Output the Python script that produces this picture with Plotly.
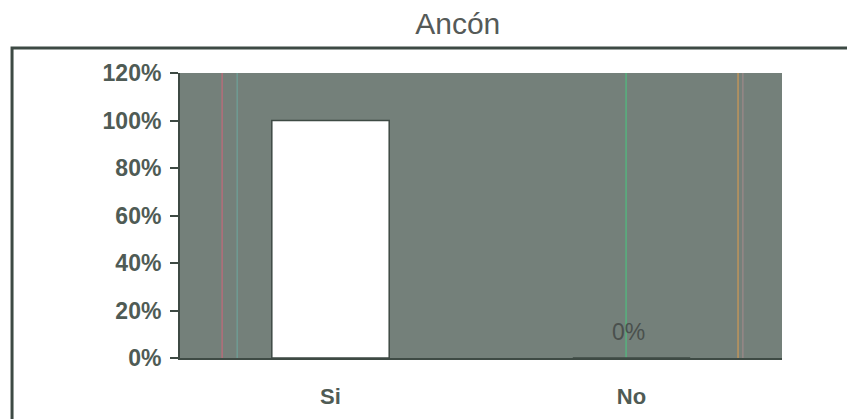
import plotly.graph_objects as go

# data
categories = ["Si", "No"]
values = [1.0, 0.0]
value_labels = ["", "0%"]
y_ticks = [0, 0.2, 0.4, 0.6, 0.8, 1.0, 1.2]
y_tick_labels = ["0%", "20%", "40%", "60%", "80%", "100%", "120%"]

FONT = "Liberation Sans, Arial"

bars = go.Bar(x=categories, y=values, width=0.39,
              marker=dict(color="#ffffff", line=dict(color="#3e4a44", width=1.5)),
              showlegend=False, hoverinfo="skip")

fig = go.Figure(bars)

# label for the "No" bar, sits a little above the axis
for cat, val, lab in zip(categories, values, value_labels):
    if lab:
        fig.add_annotation(x=cat, y=val, text=lab, showarrow=False, yanchor="middle",
                           yshift=26, xshift=-3,
                           font=dict(family=FONT, size=23, color="#4a504d"))

# scanner streaks across the plot background
streaks = [(0.07, "#c46a7a"), (0.095, "#6fa39a"), (0.741, "#4fbf7f"), (0.927, "#d19a55"), (0.935, "#a08a8a")]
for px_, col in streaks:
    fig.add_shape(type="line", xref="paper", yref="paper", x0=px_, x1=px_, y0=0, y1=1,
                  line=dict(color=col, width=1.5), layer="below", opacity=0.8)

# outer frame of the chart (runs off the right and bottom of the scan)
fig.add_shape(type="rect", xref="paper", yref="paper",
              x0=-0.279, x1=1.13, y0=-0.235, y1=1.088,
              line=dict(color="#3d4a44", width=3))

fig.update_layout(
    width=855, height=419,
    margin=dict(l=172, r=81, t=65, b=69),
    paper_bgcolor="#ffffff", plot_bgcolor="#74807a",
    title=dict(text="Ancón", x=0.526, xanchor="center", y=0.962, yanchor="middle",
               font=dict(family=FONT, size=30, color="#555a58")),
)
fig.update_yaxes(range=[0, 1.2], tickvals=y_ticks, ticktext=y_tick_labels,
                 showgrid=False, zeroline=False, showline=True, linecolor="#3e4a44", linewidth=2,
                 ticks="outside", ticklen=8, tickcolor="#3e4a44", tickwidth=2, ticklabelstandoff=4,
                 tickfont=dict(family=FONT, size=23, color="#4f5b55", weight="bold"))
fig.update_xaxes(showgrid=False, showline=True, linecolor="#3e4a44", linewidth=2,
                 ticks="", ticklabelstandoff=18,
                 tickfont=dict(family=FONT, size=22, color="#4f5b55", weight="bold"))

fig.write_html("out.html")
